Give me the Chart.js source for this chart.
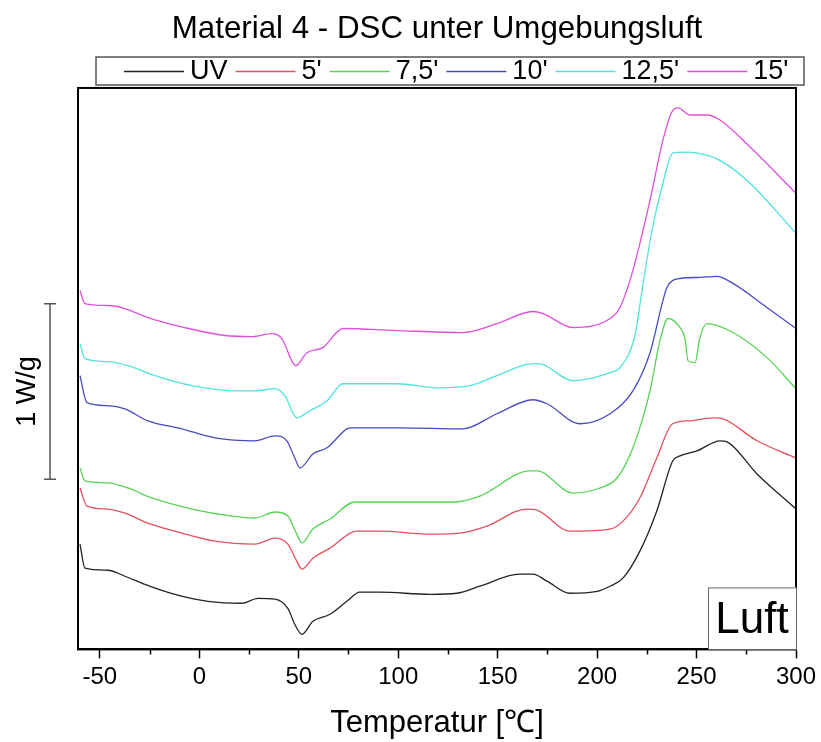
<!DOCTYPE html>
<html>
<head>
<meta charset="utf-8">
<script src="https://cdn.jsdelivr.net/npm/chart.js@4/dist/chart.umd.min.js"></script>
<style>
  body { margin: 0; background: #fff; }
  #wrap { width: 821px; height: 742px; }
</style>
</head>
<body>
<div id="wrap"><canvas id="dsc-chart"></canvas></div>
<script>
// Temperatures in °C, heat flow in W/g (curves are offset, only the 1 W/g bar is meaningful)
const tempUV = [-60, -57.5, -46, -37.4, -27.4, -12.3, 4.3, 21.4, 29.5, 38, 44.5, 48, 51.6, 57.1, 65.7, 74.2, 80.7, 90.8, 116, 129.5, 141, 161, 167.7, 174.8, 186.3, 200, 206.5, 213, 221.5, 230, 238, 241.7, 250.2, 261.8, 265.3, 280.4, 300];
const flowUV = [0.60, 0.463, 0.451, 0.417, 0.371, 0.314, 0.274, 0.263, 0.291, 0.286, 0.234, 0.143, 0.086, 0.16, 0.2, 0.274, 0.326, 0.326, 0.314, 0.32, 0.36, 0.429, 0.429, 0.389, 0.32, 0.331, 0.36, 0.406, 0.56, 0.789, 1.074, 1.103, 1.131, 1.189, 1.183, 1.0, 0.8];

const temp5 = [-60, -56.5, -46, -37.4, -25.9, -8.8, 7.8, 28, 38, 44.5, 49, 51.6, 57.1, 65.7, 79.2, 90.8, 116, 131, 144.6, 164.7, 169.8, 186.3, 206.5, 213, 221.5, 230, 238, 246.7, 258.3, 263.3, 280.4, 300];
const flow5 = [0.92, 0.817, 0.8, 0.777, 0.72, 0.663, 0.617, 0.6, 0.634, 0.6, 0.503, 0.457, 0.52, 0.577, 0.674, 0.674, 0.657, 0.663, 0.703, 0.8, 0.794, 0.674, 0.686, 0.731, 0.863, 1.091, 1.286, 1.303, 1.32, 1.314, 1.189, 1.091];

const temp75 = [-60, -57.5, -46, -35.9, -23.9, -3.7, 16.4, 28, 38, 44.5, 49, 51.6, 57.1, 65.7, 78.2, 99.4, 127.5, 141, 166.2, 169.8, 187.9, 201.4, 210, 218, 226.6, 231.6, 235.6, 241.7, 244.2, 245.7, 249.2, 251.7, 255.2, 268.3, 285.4, 300];
const flow75 = [1.034, 0.96, 0.949, 0.92, 0.863, 0.8, 0.76, 0.749, 0.783, 0.76, 0.657, 0.606, 0.686, 0.743, 0.84, 0.84, 0.84, 0.874, 1.017, 1.017, 0.891, 0.92, 0.977, 1.149, 1.474, 1.76, 1.886, 1.834, 1.771, 1.646, 1.634, 1.777, 1.857, 1.806, 1.663, 1.486];

const temp10 = [-60, -56.5, -46, -37.4, -25.9, -8.8, 7.8, 28, 38, 44, 48, 50.6, 57.1, 64.2, 74.2, 76.7, 100.9, 132.5, 149.6, 167.7, 174.8, 191.4, 206.5, 218, 226.6, 233.1, 235.1, 241.7, 251.7, 260.3, 268.3, 285.4, 300];
const flow10 = [1.56, 1.406, 1.389, 1.371, 1.303, 1.257, 1.206, 1.189, 1.217, 1.189, 1.091, 1.034, 1.114, 1.149, 1.257, 1.263, 1.263, 1.257, 1.343, 1.423, 1.4, 1.286, 1.343, 1.474, 1.691, 1.989, 2.063, 2.114, 2.12, 2.126, 2.086, 1.949, 1.829];

const temp125 = [-60, -57.5, -46, -35.9, -22.3, -3.7, 17.9, 28, 38, 43, 49, 55.6, 64.2, 72.2, 99.4, 121, 136, 149.6, 167.7, 172.8, 187.9, 206.5, 211.5, 219, 222.6, 227.6, 233.1, 238, 245.2, 256.7, 263.3, 276.9, 300];
const flow125 = [1.743, 1.657, 1.64, 1.617, 1.56, 1.503, 1.474, 1.474, 1.486, 1.446, 1.32, 1.36, 1.417, 1.514, 1.514, 1.491, 1.503, 1.56, 1.629, 1.623, 1.531, 1.577, 1.606, 1.789, 2.046, 2.389, 2.657, 2.829, 2.834, 2.811, 2.777, 2.657, 2.371];

const temp15 = [-60, -57.5, -46, -37.4, -25.9, -7.3, 12.9, 26.4, 36.5, 41.5, 46.5, 48.5, 54.1, 62.1, 72.2, 99.4, 132.5, 149.6, 167.7, 172.8, 187.9, 206.5, 211.5, 218, 226.6, 233.1, 237.6, 240.7, 246.7, 255.2, 261.8, 276.9, 300];
const flow15 = [2.046, 1.971, 1.96, 1.943, 1.891, 1.834, 1.789, 1.783, 1.8, 1.771, 1.646, 1.617, 1.691, 1.72, 1.829, 1.817, 1.806, 1.857, 1.926, 1.914, 1.834, 1.886, 1.949, 2.16, 2.56, 2.903, 3.063, 3.086, 3.046, 3.046, 3.017, 2.863, 2.6];

const seriesNames = ['UV', "5'", "7,5'", "10'", "12,5'", "15'"];
const seriesColors = ['#222222', '#e4505e', '#55d455', '#4a4ac4', '#4fe3dc', '#e24fdc'];
const seriesTemps = [tempUV, temp5, temp75, temp10, temp125, temp15];
const seriesFlows = [flowUV, flow5, flow75, flow10, flow125, flow15];

const xMajorTicks = [-50, 0, 50, 100, 150, 200, 250, 300];
const xMinorTicks = [-25, 25, 75, 125, 175, 225, 275];
const scaleBar = [0.97, 1.97]; // 1 W/g

const FONT = 'Liberation Sans, Arial, sans-serif';

function toPoints(temps, flows) {
    return temps.map((t, i) => ({ x: t, y: flows[i] }));
}

const datasets = seriesNames.map((name, i) => ({
    label: name,
    data: toPoints(seriesTemps[i], seriesFlows[i]),
    borderColor: seriesColors[i],
    borderWidth: 1.3,
    pointRadius: 0,
    fill: false,
    cubicInterpolationMode: 'monotone'
}));

// frame, minor ticks, legend box, scale bar and the "Luft" label
const decorations = {
    id: 'decorations',
    beforeDraw(chart) {
        const ctx = chart.ctx;
        ctx.save();
        ctx.fillStyle = '#fff';
        ctx.fillRect(0, 0, chart.width, chart.height);
        ctx.restore();
    },
    afterDraw(chart) {
        const ctx = chart.ctx;
        const area = chart.chartArea;
        const x = chart.scales.x;
        const y = chart.scales.y;
        ctx.save();

        // plot frame
        ctx.strokeStyle = '#000';
        ctx.lineWidth = 2;
        ctx.strokeRect(area.left, area.top, area.right - area.left, area.bottom - area.top);

        // minor ticks
        ctx.lineWidth = 1.5;
        ctx.beginPath();
        xMinorTicks.forEach(v => {
            const px = Math.round(x.getPixelForValue(v)) + 0.5;
            ctx.moveTo(px, area.bottom);
            ctx.lineTo(px, area.bottom + 5);
        });
        ctx.stroke();

        // legend
        const lx = 96, ly = 57, lw = 708, lh = 28;
        ctx.strokeStyle = '#555';
        ctx.lineWidth = 1.5;
        ctx.strokeRect(lx, ly, lw, lh);
        ctx.font = '27px ' + FONT;
        ctx.textBaseline = 'middle';
        ctx.fillStyle = '#000';
        let cx = 124;
        seriesNames.forEach((name, i) => {
            ctx.strokeStyle = seriesColors[i];
            ctx.lineWidth = 1.3;
            ctx.beginPath();
            ctx.moveTo(cx, ly + lh / 2 + 0.5);
            ctx.lineTo(cx + 60, ly + lh / 2 + 0.5);
            ctx.stroke();
            cx += 66;
            ctx.fillText(name, cx, ly + lh / 2 + 1);
            cx += ctx.measureText(name).width + 8;
        });

        // 1 W/g scale bar
        const top = y.getPixelForValue(scaleBar[1]);
        const bot = y.getPixelForValue(scaleBar[0]);
        ctx.strokeStyle = '#555';
        ctx.lineWidth = 1.5;
        ctx.beginPath();
        ctx.moveTo(50, top); ctx.lineTo(50, bot);
        ctx.moveTo(44, top); ctx.lineTo(56, top);
        ctx.moveTo(44, bot); ctx.lineTo(56, bot);
        ctx.stroke();
        ctx.save();
        ctx.translate(28, (top + bot) / 2);
        ctx.rotate(-Math.PI / 2);
        ctx.textAlign = 'center';
        ctx.textBaseline = 'middle';
        ctx.font = '27px ' + FONT;
        ctx.fillText('1 W/g', 0, 0);
        ctx.restore();

        // Luft label
        const bw = 88, bh = 62;
        ctx.fillStyle = '#fff';
        ctx.fillRect(area.right - bw, area.bottom - bh, bw, bh);
        ctx.strokeStyle = '#666';
        ctx.lineWidth = 1;
        ctx.strokeRect(area.right - bw + 0.5, area.bottom - bh + 0.5, bw, bh);
        ctx.fillStyle = '#000';
        ctx.font = '44px ' + FONT;
        ctx.textAlign = 'center';
        ctx.textBaseline = 'middle';
        ctx.fillText('Luft', area.right - bw / 2, area.bottom - bh / 2 + 2);

        ctx.restore();
    }
};

new Chart(document.getElementById('dsc-chart'), {
    type: 'line',
    data: { datasets: datasets },
    plugins: [decorations],
    options: {
        responsive: true,
        maintainAspectRatio: false,
        animation: false,
        layout: { padding: { left: 78, right: 25, top: 0, bottom: 0 } },
        plugins: {
            legend: { display: false },
            tooltip: { enabled: false },
            title: {
                display: true,
                text: 'Material 4 - DSC unter Umgebungsluft',
                color: '#000',
                font: { family: FONT, size: 31.3, weight: 'normal' },
                padding: { top: 11, bottom: 39.4 }
            }
        },
        scales: {
            x: {
                type: 'linear',
                min: -61,
                max: 300,
                afterBuildTicks: scale => {
                    scale.ticks = xMajorTicks.map(v => ({ value: v }));
                },
                grid: {
                    drawOnChartArea: false,
                    drawTicks: true,
                    tickLength: 9,
                    tickWidth: 1.5,
                    tickColor: '#000'
                },
                border: { display: true, color: '#000', width: 2 },
                ticks: {
                    color: '#000',
                    padding: 4.6,
                    maxRotation: 0,
                    font: { family: FONT, size: 24 }
                },
                title: {
                    display: true,
                    text: 'Temperatur [℃]',
                    color: '#000',
                    font: { family: FONT, size: 31 },
                    padding: { top: 8.4, bottom: 0 }
                }
            },
            y: {
                display: false,
                min: 0,
                max: 3.2
            }
        }
    }
});
</script>
</body>
</html>
